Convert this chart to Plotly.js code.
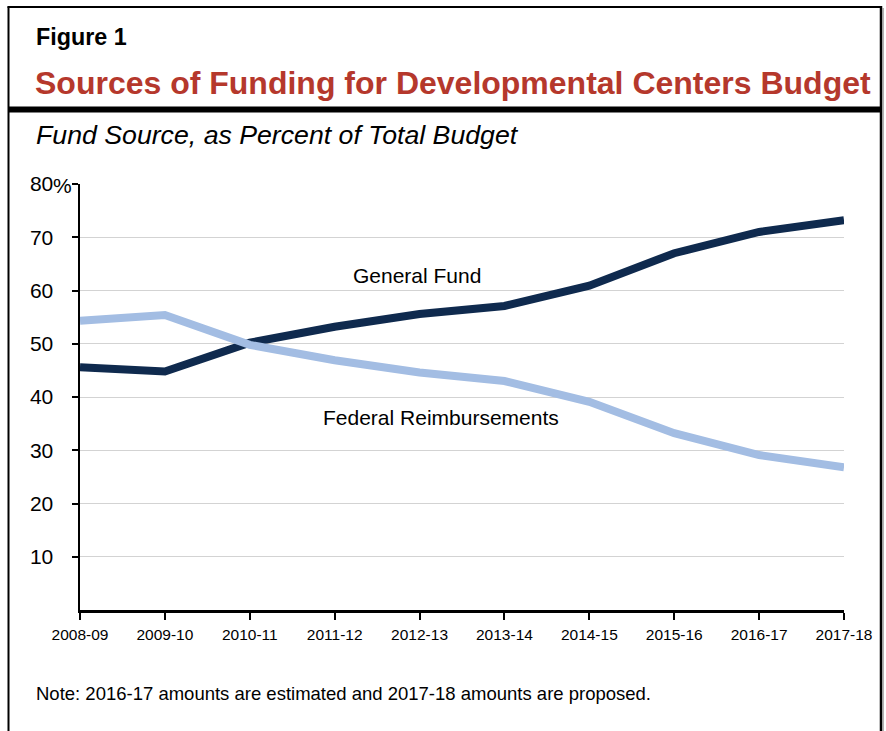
<!DOCTYPE html>
<html>
<head>
<meta charset="utf-8">
<script src="https://cdn.plot.ly/plotly-3.0.1.min.js"></script>
<style>
html, body { margin: 0; padding: 0; background: #fff; }
#chart { width: 886px; height: 731px; }
</style>
</head>
<body>
<div id="chart"></div>
<script>
// ---- Data ----
const years = ["2008-09", "2009-10", "2010-11", "2011-12", "2012-13", "2013-14", "2014-15", "2015-16", "2016-17", "2017-18"];
const generalFund = [45.6, 44.8, 50.2, 53.2, 55.6, 57.1, 60.9, 67.0, 71.0, 73.2];
const federalReimb = [54.3, 55.4, 49.8, 46.9, 44.6, 43.0, 39.1, 33.2, 29.1, 26.8];
const yTickVals = [10, 20, 30, 40, 50, 60, 70, 80];
const yTickText = ["10", "20", "30", "40", "50", "60", "70", "80"];

// ---- Layout geometry (pixels) ----
const W = 886, H = 731;
const L = 80, R = 844, T = 184, B = 610;
const px = x => (x - L) / (R - L);
const py = y => (B - y) / (B - T);
const FONT = "Liberation Sans, Arial, Helvetica, sans-serif";

const traces = [
  { x: years, y: generalFund, type: "scatter", mode: "lines", name: "General Fund",
    line: { color: "#0f2a4e", width: 8 }, hoverinfo: "skip" },
  { x: years, y: federalReimb, type: "scatter", mode: "lines", name: "Federal Reimbursements",
    line: { color: "#a3bde3", width: 8 }, hoverinfo: "skip" }
];

const ann = (text, x, y, size, opts) => Object.assign({
  text: text, xref: "paper", yref: "paper", x: px(x), y: py(y),
  showarrow: false, xanchor: "left", yanchor: "middle",
  font: { family: FONT, size: size, color: "#000" }
}, opts || {});

const layout = {
  width: W, height: H,
  margin: { l: L, r: W - R, t: T, b: H - B, pad: 0 },
  paper_bgcolor: "#fff", plot_bgcolor: "#fff",
  showlegend: false,
  font: { family: FONT, color: "#000" },
  xaxis: {
    type: "category", range: [0, years.length - 1],
    showline: true, linecolor: "#000", linewidth: 2.5,
    ticks: "outside", ticklen: 7, tickwidth: 2, tickcolor: "#000",
    showgrid: false, zeroline: false,
    tickfont: { family: FONT, size: 15.5, color: "#000" },
    ticklabelstandoff: 2, fixedrange: true
  },
  yaxis: {
    range: [0, 80], tickvals: yTickVals, ticktext: yTickText,
    showline: true, linecolor: "#000", linewidth: 2.5,
    ticks: "outside", ticklen: 6, tickwidth: 2, tickcolor: "#000",
    showgrid: true, gridcolor: "#d3d3d3", gridwidth: 1,
    zeroline: false,
    tickfont: { family: FONT, size: 21, color: "#000" },
    ticklabelstandoff: 14, fixedrange: true
  },
  annotations: [
    ann("<b>Figure 1</b>", 34, 37, 23.3),
    ann("<b>Sources of Funding for Developmental Centers Budget</b>", 33, 83, 32, { font: { family: FONT, size: 32, color: "#b5382c" } }),
    ann("<i>Fund Source, as Percent of Total Budget</i>", 34, 135, 26.7),
    ann("%", 51, 185, 21),
    ann("General Fund", 417, 275, 21, { xanchor: "center" }),
    ann("Federal Reimbursements", 441, 417, 21, { xanchor: "center" }),
    ann("Note: 2016-17 amounts are estimated and 2017-18 amounts are proposed.", 34, 693, 18.5)
  ],
  shapes: [
    // outer frame
    { type: "line", xref: "paper", yref: "paper", x0: px(8.5), x1: px(8.5), y0: py(6.5), y1: py(740), line: { color: "#000", width: 2 } },
    { type: "line", xref: "paper", yref: "paper", x0: px(7.5), x1: px(882), y0: py(7), y1: py(7), line: { color: "#000", width: 2 } },
    { type: "line", xref: "paper", yref: "paper", x0: px(881), x1: px(881), y0: py(6), y1: py(740), line: { color: "#000", width: 2.5 } },
    { type: "line", xref: "paper", yref: "paper", x0: px(883), x1: px(883), y0: py(8), y1: py(740), line: { color: "#999", width: 1.5 } },
    // thick rule under title
    { type: "line", xref: "paper", yref: "paper", x0: px(8), x1: px(882), y0: py(109.5), y1: py(109.5), line: { color: "#000", width: 6 } }
  ]
};

Plotly.newPlot("chart", traces, layout, { staticPlot: true, displayModeBar: false });
</script>
</body>
</html>
